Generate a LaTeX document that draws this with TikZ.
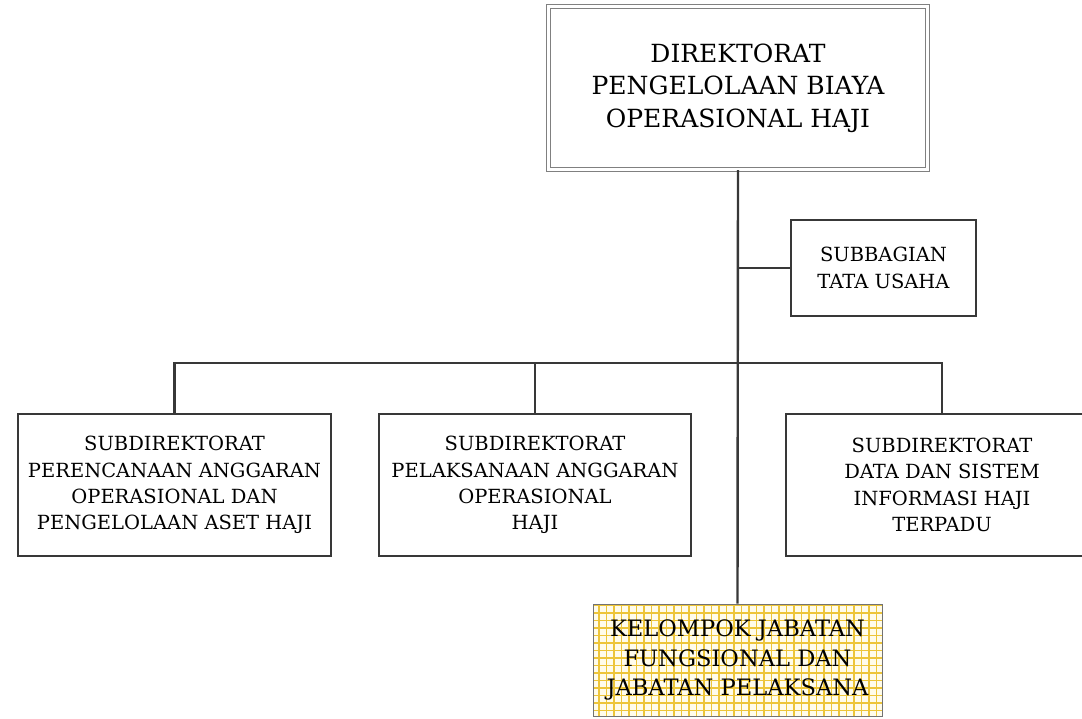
\documentclass[tikz,border=0pt]{standalone}
\usepackage{fontspec}
\setmainfont{DejaVu Serif}
\definecolor{boxline}{HTML}{383838}
\definecolor{gridyellow}{HTML}{EDC53A}
\definecolor{gridback}{HTML}{FFFCEB}
\tikzset{
    unit/.style={draw=boxline, line width=2.7pt, fill=white, align=center,
        text=black, inner sep=0pt, font=\fontsize{19.5}{26.3}\selectfont},
    head/.style={draw=black!50, line width=1.4pt, double=white, double distance=2.6pt,
        align=center, text=black, inner sep=0pt, font=\fontsize{25}{32.5}\selectfont},
    fungsional/.style={draw=black!55, line width=1pt, fill=gridback, align=center,
        text=black, inner sep=0pt, font=\fontsize{22.6}{29.5}\selectfont,
        path picture={\draw[gridyellow, line width=1.1pt, step=7.5pt]
            (path picture bounding box.south west) grid (path picture bounding box.north east);}},
    link/.style={draw=boxline, line width=2.4pt}
}
\begin{document}
\begin{tikzpicture}[x=1pt,y=-1pt]
    \useasboundingbox (0,0) rectangle (1082,718);
    \clip (0,0) rectangle (1082,718);

    \node[head, minimum width=379pt, minimum height=163pt] (dir) at (738,88) {DIREKTORAT\\PENGELOLAAN BIAYA\\OPERASIONAL HAJI};
    \node[unit, line width=2.2pt, minimum width=185pt, minimum height=96pt] (tu) at (883.5,268) {SUBBAGIAN\\TATA USAHA};
    \node[unit, minimum width=313pt, minimum height=142pt] (sa) at (174.5,485) {SUBDIREKTORAT\\PERENCANAAN ANGGARAN\\OPERASIONAL DAN\\PENGELOLAAN ASET HAJI};
    \node[unit, minimum width=312pt, minimum height=142pt] (sb) at (535,485) {SUBDIREKTORAT\\PELAKSANAAN ANGGARAN\\OPERASIONAL\\HAJI};
    \node[unit, minimum width=312pt, minimum height=142pt] (sc) at (942,485) {SUBDIREKTORAT\\DATA DAN SISTEM\\INFORMASI HAJI\\TERPADU};
    \node[fungsional, minimum width=289pt, minimum height=112pt] (jf) at (737.5,660) {KELOMPOK JABATAN\\FUNGSIONAL DAN\\JABATAN PELAKSANA};

    \coordinate (bus) at (738,363);

    \path[link] (dir.south) -- (jf.north);
    \path[link] (tu.west) -- (tu.west -| dir.south);
    \path[link] (sa.north) |- (sc.north |- bus) -- (sc.north);
    \path[link] (sb.north) -- (sb.north |- bus);

\end{tikzpicture}
\end{document}
